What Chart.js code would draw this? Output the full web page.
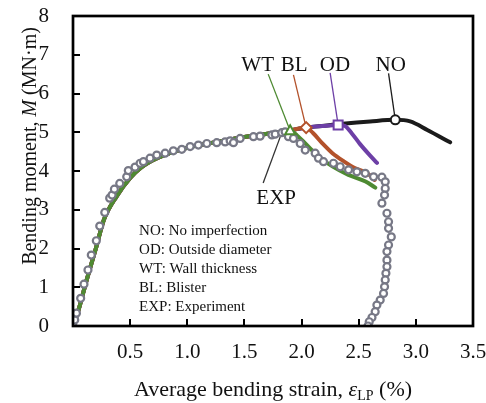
<!DOCTYPE html>
<html><head><meta charset="utf-8">
<script src="https://cdn.jsdelivr.net/npm/chart.js@4/dist/chart.umd.min.js"></script>
<style>html,body{margin:0;padding:0;background:#fff;}#wrap{width:486px;height:403px;}</style>
</head><body><div id="wrap"><canvas id="c" width="486" height="403"></canvas></div>
<script>
// ---- tick labels ----
const xTicks = [0.5, 1.0, 1.5, 2.0, 2.5, 3.0, 3.5];
const yTicks = [0, 1, 2, 3, 4, 5, 6, 7, 8];

// ---- EXP (experiment) ----
const expX = [0.00,0.015,0.03,0.067,0.096,0.131,0.16,0.204,0.234,0.278,0.321,0.342,0.362,0.409,0.47,0.484,0.543,0.587,0.616,0.674,0.733,0.806,0.878,0.952,1.025,1.097,1.171,1.258,1.331,1.375,1.404,1.462,1.579,1.637,1.74,1.769,1.827,1.856,1.885,1.929,1.988,2.032,2.119,2.148,2.192,2.279,2.338,2.411,2.484,2.557,2.63,2.703,2.732,2.732,2.726,2.703,2.747,2.761,2.761,2.785,2.761,2.747,2.747,2.747,2.738,2.732,2.726,2.717,2.688,2.659,2.644,2.616,2.592,2.581];
const expY = [0.00,0.155,0.33,0.715,1.08,1.445,1.83,2.2,2.58,2.93,3.3,3.38,3.53,3.68,3.85,4.01,4.1,4.2,4.24,4.33,4.41,4.46,4.52,4.56,4.63,4.67,4.71,4.73,4.75,4.78,4.73,4.84,4.885,4.9,4.93,4.95,4.99,5.01,4.885,4.84,4.71,4.54,4.46,4.33,4.24,4.2,4.11,4.03,3.98,3.94,3.85,3.84,3.72,3.55,3.38,3.17,2.91,2.69,2.52,2.3,2.09,1.92,1.7,1.53,1.36,1.19,1.01,0.84,0.67,0.54,0.37,0.22,0.11,0.0];

// ---- simulations: common rising branch ----
const riseX = [0, 0.04, 0.12, 0.2, 0.27, 0.38, 0.5, 0.6, 0.75, 1.0, 1.2, 1.5, 1.8];
const riseY = [0, 0.33, 1.19, 2.0, 2.74, 3.34, 3.82, 4.1, 4.35, 4.6, 4.72, 4.88, 5.0];
// post-rise branches
const wtX = [1.9, 1.97, 2.06, 2.15, 2.27, 2.41, 2.56, 2.645];
const wtY = [5.04, 4.89, 4.63, 4.37, 4.12, 3.90, 3.73, 3.57];
const blX = [1.9, 2.04, 2.10, 2.18, 2.27, 2.37, 2.47, 2.57, 2.64];
const blY = [5.05, 5.12, 4.98, 4.72, 4.46, 4.25, 4.07, 3.95, 3.77];
const odX = [1.9, 2.04, 2.18, 2.32, 2.38, 2.44, 2.51, 2.59, 2.66];
const odY = [5.05, 5.12, 5.16, 5.19, 5.16, 4.97, 4.70, 4.43, 4.21];
const noX = [1.9, 2.04, 2.2, 2.36, 2.6, 2.82, 2.95, 3.10, 3.30];
const noY = [5.05, 5.12, 5.17, 5.22, 5.28, 5.32, 5.28, 5.06, 4.74];

const noteLines = ['NO: No imperfection', 'OD: Outside diameter', 'WT: Wall thickness', 'BL: Blister', 'EXP: Experiment'];

const FONT = '"Liberation Serif", "Times New Roman", serif';
const COL = { NO: '#1b1b1b', OD: '#6d3fa6', BL: '#b3522b', WT: '#4e8a32', EXP: '#777886' };

function pts(xs, ys) { return xs.map((v, i) => ({ x: v, y: ys[i] })); }
function full(bx, by) { return pts(riseX.concat(bx), riseY.concat(by)); }
function peak(data) { let k = 0; data.forEach((p, i) => { if (p.y > data[k].y) k = i; }); return data[k]; }

const series = {
  WT: full(wtX, wtY), BL: full(blX, blY), OD: full(odX, odY), NO: full(noX, noY)
};

// annotation placements (data units)
const simLabels = [
  { key: 'WT', text: 'WT', tx: 1.616, ty: 6.59, lx: 1.708, ly: 6.50, shape: 'tri' },
  { key: 'BL', text: 'BL', tx: 1.935, ty: 6.59, lx: 1.929, ly: 6.48, shape: 'dia' },
  { key: 'OD', text: 'OD', tx: 2.292, ty: 6.59, lx: 2.25, ly: 6.53, shape: 'sq' },
  { key: 'NO', text: 'NO', tx: 2.78, ty: 6.59, lx: 2.761, ly: 6.52, shape: 'circ' }
];
const expLabel = { text: 'EXP', tx: 1.778, ty: 3.15, lx: 1.664, ly: 3.69, idx: 36 };
const noteAnchor = { x: 0.578, y: 2.45, step: 0.49 };

function lineDS(key) {
  return {
    label: key, data: series[key], borderColor: COL[key], borderWidth: 4,
    pointRadius: 0, showLine: true, fill: false, cubicInterpolationMode: 'monotone',
    borderCapStyle: 'round', borderJoinStyle: 'round'
  };
}

function drawRuns(ctx, runs, cx, baseY) {
  let total = 0;
  runs.forEach(r => { ctx.font = r.f; r.w = ctx.measureText(r.t).width; total += r.w; });
  let x = cx - total / 2;
  runs.forEach(r => { ctx.font = r.f; ctx.fillText(r.t, x, baseY + (r.dy || 0)); x += r.w; });
}

const deco = {
  id: 'deco',
  beforeDatasetsDraw(chart) {
    const { ctx, scales: { x, y } } = chart;
    ctx.save();
    ctx.lineWidth = 1.3;
    simLabels.forEach(s => {
      const p = peak(series[s.key]);
      ctx.strokeStyle = COL[s.key];
      ctx.beginPath();
      ctx.moveTo(x.getPixelForValue(s.lx), y.getPixelForValue(s.ly));
      ctx.lineTo(x.getPixelForValue(p.x), y.getPixelForValue(p.y));
      ctx.stroke();
    });
    ctx.strokeStyle = '#333';
    ctx.beginPath();
    ctx.moveTo(x.getPixelForValue(expLabel.lx), y.getPixelForValue(expLabel.ly));
    ctx.lineTo(x.getPixelForValue(expX[expLabel.idx]), y.getPixelForValue(expY[expLabel.idx]));
    ctx.stroke();
    ctx.restore();
  },
  afterDatasetsDraw(chart) {
    const { ctx, scales: { x, y } } = chart;
    ctx.save();
    simLabels.forEach(s => {
      const p = peak(series[s.key]);
      const px = x.getPixelForValue(p.x), py = y.getPixelForValue(p.y);
      ctx.fillStyle = '#fff'; ctx.strokeStyle = COL[s.key]; ctx.lineWidth = 2;
      ctx.beginPath();
      if (s.shape === 'circ') ctx.arc(px, py, 4.5, 0, Math.PI * 2);
      else if (s.shape === 'sq') ctx.rect(px - 4.5, py - 4.5, 9, 9);
      else if (s.shape === 'dia') { ctx.moveTo(px, py - 5.5); ctx.lineTo(px + 5.5, py); ctx.lineTo(px, py + 5.5); ctx.lineTo(px - 5.5, py); ctx.closePath(); }
      else { ctx.moveTo(px, py - 5.5); ctx.lineTo(px + 5, py + 3.5); ctx.lineTo(px - 5, py + 3.5); ctx.closePath(); }
      ctx.fill(); ctx.stroke();
    });
    ctx.fillStyle = '#111';
    ctx.textAlign = 'center'; ctx.textBaseline = 'alphabetic';
    ctx.font = '21px ' + FONT;
    simLabels.forEach(s => ctx.fillText(s.text, x.getPixelForValue(s.tx), y.getPixelForValue(s.ty)));
    ctx.fillText(expLabel.text, x.getPixelForValue(expLabel.tx), y.getPixelForValue(expLabel.ty));
    ctx.textAlign = 'left'; ctx.textBaseline = 'middle';
    ctx.font = '15px ' + FONT;
    noteLines.forEach((t, i) => ctx.fillText(t, x.getPixelForValue(noteAnchor.x), y.getPixelForValue(noteAnchor.y - i * noteAnchor.step)));
    ctx.restore();
  },
  afterDraw(chart) {
    const { ctx, chartArea: a, scales: { x, y } } = chart;
    ctx.save();
    ctx.strokeStyle = '#000';
    ctx.lineWidth = 2;
    ctx.beginPath();
    y.ticks.forEach(t => { const py = Math.round(y.getPixelForValue(t.value)); ctx.moveTo(a.left, py); ctx.lineTo(a.left + 7, py); });
    x.ticks.forEach(t => { const px = Math.round(x.getPixelForValue(t.value)); ctx.moveTo(px, a.bottom); ctx.lineTo(px, a.bottom - 7); });
    ctx.stroke();
    ctx.lineWidth = 2.7;
    ctx.strokeRect(a.left, a.top, a.right - a.left, a.bottom - a.top);
    ctx.fillStyle = '#111';
    ctx.textAlign = 'left'; ctx.textBaseline = 'alphabetic';
    drawRuns(ctx, [
      { t: 'Average bending strain, ', f: '22px ' + FONT },
      { t: 'ε', f: 'italic 22px ' + FONT },
      { t: 'LP', f: '14px ' + FONT, dy: 4 },
      { t: ' (%)', f: '22px ' + FONT }
    ], (a.left + a.right) / 2, 396);
    ctx.translate(36, 146);
    ctx.rotate(-Math.PI / 2);
    drawRuns(ctx, [
      { t: 'Bending moment, ', f: '20px ' + FONT },
      { t: 'M', f: 'italic 20px ' + FONT },
      { t: ' (MN·m)', f: '20px ' + FONT }
    ], 0, 0);
    ctx.restore();
  }
};

new Chart(document.getElementById('c'), {
  type: 'scatter',
  data: {
    datasets: [
      { label: 'EXP', data: pts(expX, expY), showLine: false, pointRadius: 3.5, pointBorderWidth: 2.2,
        pointBackgroundColor: '#fff', pointBorderColor: COL.EXP },
      lineDS('WT'), lineDS('BL'), lineDS('OD'), lineDS('NO')
    ]
  },
  options: {
    responsive: false, animation: false, devicePixelRatio: 1,
    layout: { padding: { left: 0, right: 13, top: 16, bottom: 0 } },
    plugins: { legend: { display: false }, tooltip: { enabled: false } },
    scales: {
      x: {
        type: 'linear', min: 0, max: 3.5,
        afterBuildTicks: s => { s.ticks = xTicks.map(v => ({ value: v })); },
        afterFit: s => { s.height = 77; s.paddingLeft = 0; s.paddingRight = 0; },
        ticks: { callback: v => v.toFixed(1), font: { family: FONT, size: 21 }, color: '#111', padding: 14, maxRotation: 0, autoSkip: false },
        grid: { display: false, drawTicks: false }, border: { display: false }
      },
      y: {
        type: 'linear', min: 0, max: 8,
        afterBuildTicks: s => { s.ticks = yTicks.map(v => ({ value: v })); },
        afterFit: s => { s.width = 73; s.paddingTop = 0; s.paddingBottom = 0; },
        ticks: { callback: v => String(v), font: { family: FONT, size: 21 }, color: '#111', padding: 24 },
        grid: { display: false, drawTicks: false }, border: { display: false }
      }
    }
  },
  plugins: [deco]
});
</script></body></html>
